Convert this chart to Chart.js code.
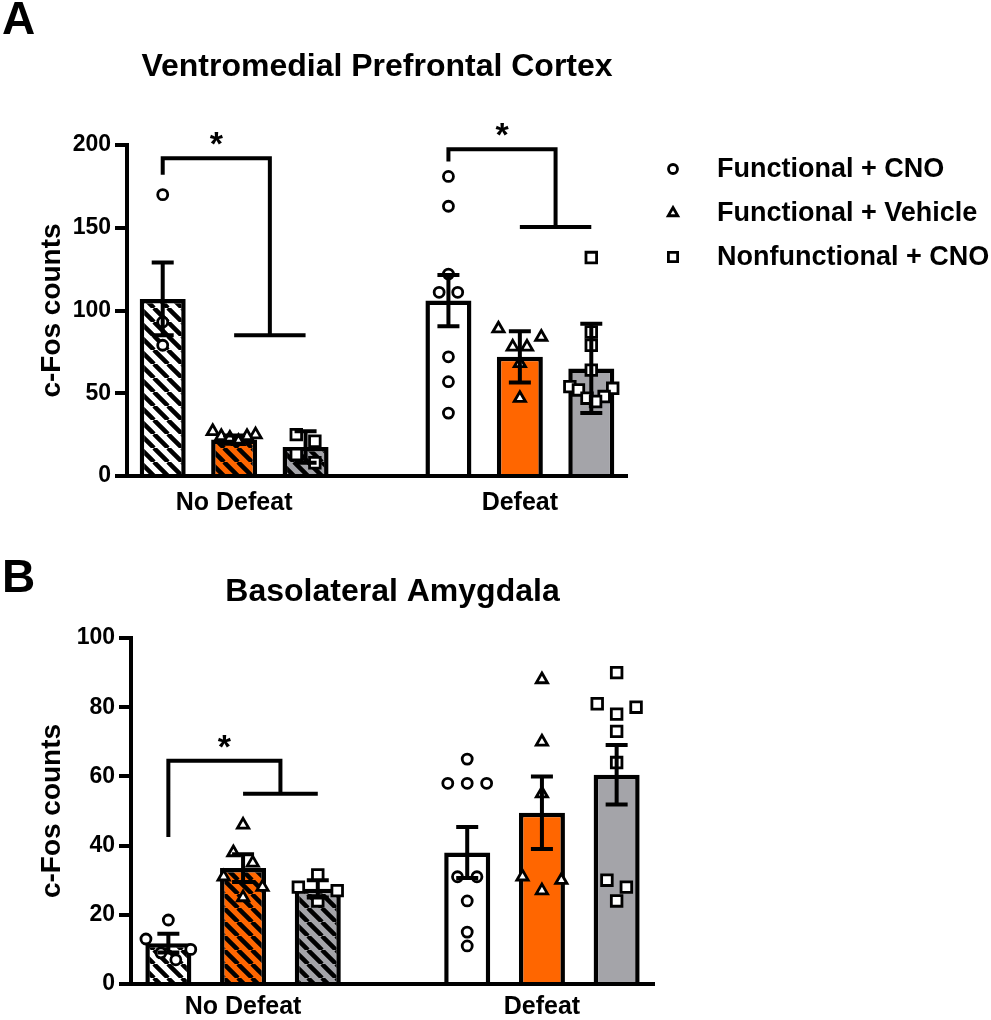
<!DOCTYPE html>
<html>
<head>
<meta charset="utf-8">
<title>c-Fos counts</title>
<script src="https://cdn.jsdelivr.net/npm/chart.js@4.4.0/dist/chart.umd.min.js"></script>
<style>
  html, body { margin: 0; padding: 0; background: #fff; }
  #wrap { position: relative; width: 991px; height: 1020px; overflow: hidden; }
  canvas { position: absolute; left: 0; }
  #panelA { top: 0; }
  #panelB { top: 530px; }
</style>
</head>
<body>
<div id="wrap">
  <canvas id="panelA" width="991" height="530"></canvas>
  <canvas id="panelB" width="991" height="490"></canvas>
</div>
<script>
// ---------------- DATA ----------------
const groupLabels = ['No Defeat', 'Defeat'];
const seriesLabels = ['Functional + CNO', 'Functional + Vehicle', 'Nonfunctional + CNO'];

// Panel A: Ventromedial Prefrontal Cortex (order: ND-FC, ND-FV, ND-NF, D-FC, D-FV, D-NF)
const vmpfcTitle = 'Ventromedial Prefrontal Cortex';
const vmpfcTicks = [0, 50, 100, 150, 200];
const vmpfcMeans = [107, 22, 17.5, 106, 72, 65];
const vmpfcErrors = [22, 2.5, 9.5, 15.5, 15.5, 27];
const vmpfcPoints = [
  [170, 93, 79],
  [27, 25, 24, 24, 23, 21],
  [25, 21, 13, 8],
  [181, 163, 122, 111, 111, 72, 57, 38],
  [89, 84, 78, 78, 68, 47],
  [132, 87, 79, 64, 54, 53, 52, 48, 47, 45]
];
// [group, bracket top, left end, right end] in c-Fos counts
const vmpfcBrackets = [[0, 192, 182, 85], [1, 197.5, 190, 150.5]];

// Panel B: Basolateral Amygdala
const blaTitle = 'Basolateral Amygdala';
const blaTicks = [0, 20, 40, 60, 80, 100];
const blaMeans = [11.8, 33.5, 27.5, 38, 49.5, 60.5];
const blaErrors = [2.7, 4, 2.5, 7.4, 10.5, 8.6];
const blaPoints = [
  [18.5, 13, 10, 9, 7],
  [46, 38, 35, 31, 28, 25],
  [31.5, 28, 27, 24],
  [65, 58, 58, 58, 31, 31, 24, 15, 11],
  [88, 70, 55, 31, 30, 27],
  [90, 81, 80, 78, 73, 64, 30, 28, 24]
];
const blaBrackets = [[0, 64.5, 42.5, 55]];

// ---------------- STYLE ----------------
const FAMILY = '"Liberation Sans", Arial, Helvetica, sans-serif';
Chart.defaults.font.family = FAMILY;
Chart.defaults.color = '#000';
const SERIES_FILL = ['#ffffff', '#ff6600', '#a4a4a9'];
const SERIES_MARK = ['circle', 'triangle', 'rect'];
const SERIES_RADIUS = [5, 6.5, 7.5];

function stripe(bg) {
  const p = 14;
  const c = document.createElement('canvas');
  c.width = p; c.height = p;
  const g = c.getContext('2d');
  g.fillStyle = bg; g.fillRect(0, 0, p, p);
  g.strokeStyle = '#000'; g.lineWidth = 4.5;
  g.beginPath();
  for (const o of [-p, 0, p]) { g.moveTo(o, 0); g.lineTo(o + p, p); }
  g.stroke();
  return g.createPattern(c, 'repeat');
}

function slotOf(i) { return Math.floor(i / 3) * 4 + (i % 3); }

// spread near-equal values sideways (zig-zag) so markers do not overlap
function swarm(values, center, thresh) {
  const order = values.map((v, i) => i).sort((a, b) => values[b] - values[a]);
  const out = new Array(values.length);
  let cluster = [];
  const flush = () => {
    const n = cluster.length;
    const step = Math.min(0.26, 0.6 / Math.max(1, n - 1));
    const slots = [];
    for (let lo = 0, hi = n - 1; lo <= hi; lo++, hi--) { slots.push(lo); if (hi !== lo) slots.push(hi); }
    cluster.forEach((k, j) => { out[k] = { x: center + (slots[j] - (n - 1) / 2) * step, y: values[k] }; });
    cluster = [];
  };
  order.forEach(k => {
    if (cluster.length && values[cluster[cluster.length - 1]] - values[k] > thresh) flush();
    cluster.push(k);
  });
  flush();
  return out;
}

function drawMarker(ctx, style, r, x, y) {
  ctx.save();
  ctx.fillStyle = '#fff'; ctx.strokeStyle = '#000'; ctx.lineWidth = 2.8;
  if (Chart.helpers && Chart.helpers.drawPoint) {
    Chart.helpers.drawPoint(ctx, { pointStyle: style, radius: r, rotation: 0, borderWidth: 2.8 }, x, y);
  } else {
    ctx.beginPath();
    if (style === 'circle') ctx.arc(x, y, r, 0, Math.PI * 2);
    else if (style === 'rect') { const s = r * Math.SQRT1_2; ctx.rect(x - s, y - s, 2 * s, 2 * s); }
    else { ctx.moveTo(x, y - r); ctx.lineTo(x + r * 0.866, y + r / 2); ctx.lineTo(x - r * 0.866, y + r / 2); ctx.closePath(); }
    ctx.fill(); ctx.stroke();
  }
  ctx.restore();
}

const extrasPlugin = {
  id: 'extras',
  afterDatasetsDraw(chart) {
    const o = chart.options.plugins.extras;
    const ctx = chart.ctx, ys = chart.scales.y;
    const meta = chart.getDatasetMeta(0);
    const ds = chart.data.datasets[0];
    ctx.save();
    ctx.strokeStyle = '#000'; ctx.lineWidth = 4; ctx.lineCap = 'butt';
    meta.data.forEach((bar, i) => {
      const v = ds.data[i].y, e = o.errors[i];
      const x = bar.x, yt = ys.getPixelForValue(v + e), yb = ys.getPixelForValue(v - e);
      ctx.beginPath();
      ctx.moveTo(x, yt); ctx.lineTo(x, yb);
      ctx.moveTo(x - 11, yt); ctx.lineTo(x + 11, yt);
      ctx.moveTo(x - 11, yb); ctx.lineTo(x + 11, yb);
      ctx.stroke();
    });
    ctx.restore();
  },
  afterDraw(chart) {
    const o = chart.options.plugins.extras;
    const ctx = chart.ctx, xs = chart.scales.x, ys = chart.scales.y, ca = chart.chartArea;
    ctx.save();
    // significance brackets
    ctx.strokeStyle = '#000'; ctx.lineWidth = 4; ctx.lineJoin = 'miter';
    ctx.fillStyle = '#000';
    o.brackets.forEach(([g, top, lEnd, rEnd]) => {
      const x0 = xs.getPixelForValue(g * 4), xm = xs.getPixelForValue(g * 4 + 1.5);
      const x1 = xs.getPixelForValue(g * 4 + 1), x2 = xs.getPixelForValue(g * 4 + 2);
      const yT = ys.getPixelForValue(top), yL = ys.getPixelForValue(lEnd), yR = ys.getPixelForValue(rEnd);
      ctx.beginPath();
      ctx.moveTo(x0, yL); ctx.lineTo(x0, yT); ctx.lineTo(xm, yT); ctx.lineTo(xm, yR);
      ctx.moveTo(x1, yR); ctx.lineTo(x2, yR);
      ctx.stroke();
      ctx.font = 'bold 34px ' + FAMILY;
      ctx.textAlign = 'center'; ctx.textBaseline = 'alphabetic';
      ctx.fillText('*', (x0 + xm) / 2, yT - 3);
    });
    // title
    ctx.font = 'bold 32px ' + FAMILY;
    ctx.textAlign = 'center'; ctx.textBaseline = 'alphabetic';
    ctx.fillText(o.title, (ca.left + ca.right) / 2, o.titleBaseline);
    // panel letter
    ctx.font = 'bold 46px ' + FAMILY;
    ctx.textAlign = 'left';
    ctx.fillText(o.letter, 2, o.letterBaseline);
    // legend
    if (o.legend) {
      ctx.font = 'bold 27px ' + FAMILY;
      ctx.textBaseline = 'middle';
      chart.data.datasets.slice(1).forEach((d, k) => {
        const y = 169 + k * 44;
        drawMarker(ctx, SERIES_MARK[k], k === 0 ? 4.5 : (k === 1 ? 5.5 : 6.5), 673, y);
        ctx.fillStyle = '#000';
        ctx.fillText(d.label, 717, y + 1);
      });
    }
    ctx.restore();
  }
};

function buildChart(el, cfg) {
  const ymax = cfg.ticks[cfg.ticks.length - 1];
  const barColors = cfg.means.map((_, i) => Math.floor(i / 3) === 0 ? stripe(SERIES_FILL[i % 3]) : SERIES_FILL[i % 3]);
  const datasets = [{
    type: 'bar',
    label: 'mean',
    data: cfg.means.map((m, i) => ({ x: slotOf(i), y: m })),
    backgroundColor: barColors,
    borderColor: '#000',
    borderWidth: 4.5,
    barPercentage: cfg.barPct,
    categoryPercentage: 1,
    order: 10
  }];
  for (let s = 0; s < 3; s++) {
    const pts = [];
    [s, s + 3].forEach(i => pts.push(...swarm(cfg.points[i], slotOf(i), ymax * 0.03)));
    datasets.push({
      type: 'scatter',
      label: seriesLabels[s],
      data: pts,
      pointStyle: SERIES_MARK[s],
      pointRadius: SERIES_RADIUS[s],
      pointBorderWidth: 2.8,
      pointBackgroundColor: '#fff',
      pointBorderColor: '#000',
      order: 1
    });
  }
  return new Chart(el, {
    type: 'bar',
    data: { datasets },
    plugins: [extrasPlugin],
    options: {
      responsive: false,
      animation: false,
      events: [],
      layout: { padding: { top: cfg.padTop, right: cfg.padRight, left: 0, bottom: 0 } },
      plugins: {
        legend: { display: false },
        tooltip: { enabled: false },
        title: { display: false },
        extras: {
          errors: cfg.errors, brackets: cfg.brackets, title: cfg.title,
          titleBaseline: cfg.titleBaseline, letter: cfg.letter,
          letterBaseline: cfg.letterBaseline, legend: cfg.legend
        }
      },
      scales: {
        x: {
          type: 'linear', min: -0.5, max: 6.5, offset: false,
          afterBuildTicks: s => { s.ticks = [{ value: 1 }, { value: 5 }]; },
          afterFit: s => { s.height = cfg.xHeight; },
          ticks: {
            callback: v => (v === 1 ? groupLabels[0] : (v === 5 ? groupLabels[1] : '')),
            font: { size: 25, weight: 'bold' }, color: '#000',
            padding: cfg.xPad, maxRotation: 0, autoSkip: false
          },
          grid: { display: true, drawOnChartArea: false, drawTicks: false, offset: false },
          border: { display: true, color: '#000', width: 4 }
        },
        y: {
          min: 0, max: ymax,
          afterBuildTicks: s => { s.ticks = cfg.ticks.map(v => ({ value: v })); },
          afterFit: s => { s.width = cfg.yWidth; },
          ticks: { font: { size: 23, weight: 'bold' }, color: '#000', padding: 4 },
          grid: { display: true, drawOnChartArea: false, drawTicks: true, tickLength: 12, lineWidth: 4, color: '#000' },
          border: { display: true, color: '#000', width: 4 },
          title: {
            display: true, text: 'c-Fos counts', color: '#000',
            font: { size: 28, weight: 'bold' }, padding: { top: 35, bottom: 0 }
          }
        }
      }
    }
  });
}

buildChart(document.getElementById('panelA'), {
  title: vmpfcTitle, ticks: vmpfcTicks, means: vmpfcMeans, errors: vmpfcErrors,
  points: vmpfcPoints, brackets: vmpfcBrackets, letter: 'A', letterBaseline: 34,
  titleBaseline: 76, legend: true, barPct: 0.644,
  padTop: 145, padRight: 991 - 627, yWidth: 127, xHeight: 54, xPad: 12
});
buildChart(document.getElementById('panelB'), {
  title: blaTitle, ticks: blaTicks, means: blaMeans, errors: blaErrors,
  points: blaPoints, brackets: blaBrackets, letter: 'B', letterBaseline: 62,
  titleBaseline: 71, legend: false, barPct: 0.616,
  padTop: 108, padRight: 991 - 654, yWidth: 131, xHeight: 36, xPad: 8
});
</script>
</body>
</html>
